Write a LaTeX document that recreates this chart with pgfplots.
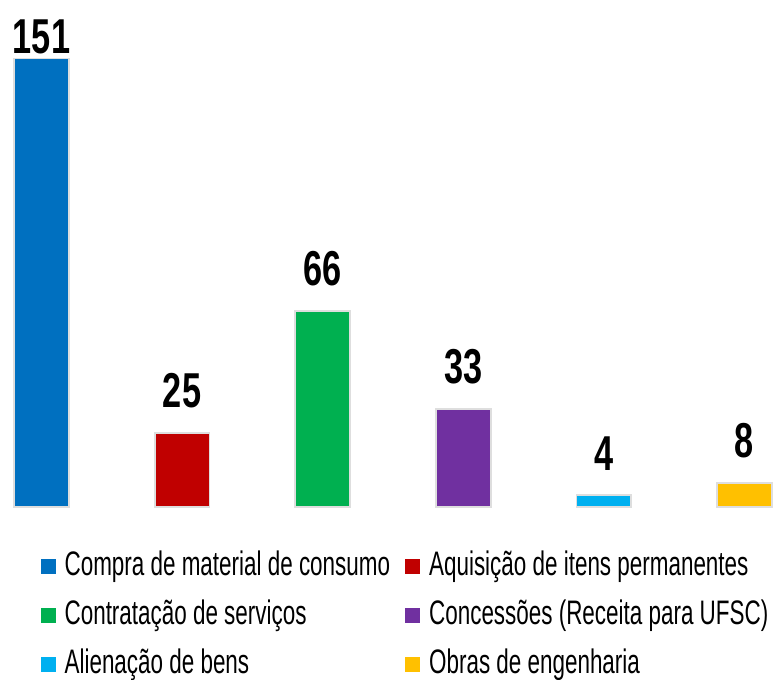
\documentclass[border=0pt]{standalone}
\usepackage{fontspec}
\setmainfont{Liberation Sans}
\usepackage{pgfplots}
\pgfplotsset{compat=1.18}
\newfontfamily\condfont{Liberation Sans}[FakeStretch=0.66]
\newfontfamily\labfont{Liberation Sans}[FakeStretch=0.7]
\definecolor{cA}{HTML}{0070C0}
\definecolor{cB}{HTML}{C00000}
\definecolor{cC}{HTML}{00B050}
\definecolor{cD}{HTML}{7030A0}
\definecolor{cE}{HTML}{00B0F0}
\definecolor{cF}{HTML}{FFC000}
\begin{document}
\begin{tikzpicture}
\begin{axis}[
  width=386.5pt, height=253.5pt, scale only axis,
  axis line style={draw=none}, xtick=\empty, ytick=\empty,
  xmin=-0.295, xmax=5.203, ymin=0, ymax=170.7,
  clip=false,
  /pgf/number format/assume math mode=true,
  ybar, bar width=0.39, bar shift=0pt,
  nodes near coords,
  every node near coord/.append style={font=\labfont\bfseries\fontsize{24.5}{24.5}\selectfont, inner sep=0pt, anchor=south, yshift=12pt, text=black},
  legend columns=2,
  legend cell align=left,
  legend style={draw=none, fill=none, at={(0.052,-0.087)}, anchor=north west,
    font=\condfont\fontsize{17}{17}\selectfont, inner sep=0pt,
    nodes={inner sep=0pt, text height=12pt, text depth=3pt},
    row sep=9.5pt,
    /tikz/every odd column/.append style={column sep=4.5pt},
    /tikz/every even column/.append style={column sep=7.5pt}},
  legend image code/.code={\fill[#1, draw=none] (0pt,-3.75pt) rectangle (7.5pt,3.75pt);},
  every axis plot/.append style={draw=black!13, line width=0.9pt},
]
\addplot[fill=cA, every node near coord/.append style={yshift=-10pt}] coordinates {(0,151)};
\addlegendentry{Compra de material de consumo}
\addplot[fill=cB] coordinates {(1,25)};
\addlegendentry{Aquisição de itens permanentes}
\addplot[fill=cC] coordinates {(2,66)};
\addlegendentry{Contratação de serviços}
\addplot[fill=cD] coordinates {(3,33)};
\addlegendentry{Concessões (Receita para UFSC)}
\addplot[fill=cE] coordinates {(4,4)};
\addlegendentry{Alienação de bens}
\addplot[fill=cF] coordinates {(5,8)};
\addlegendentry{Obras de engenharia}
\end{axis}
\end{tikzpicture}
\end{document}
